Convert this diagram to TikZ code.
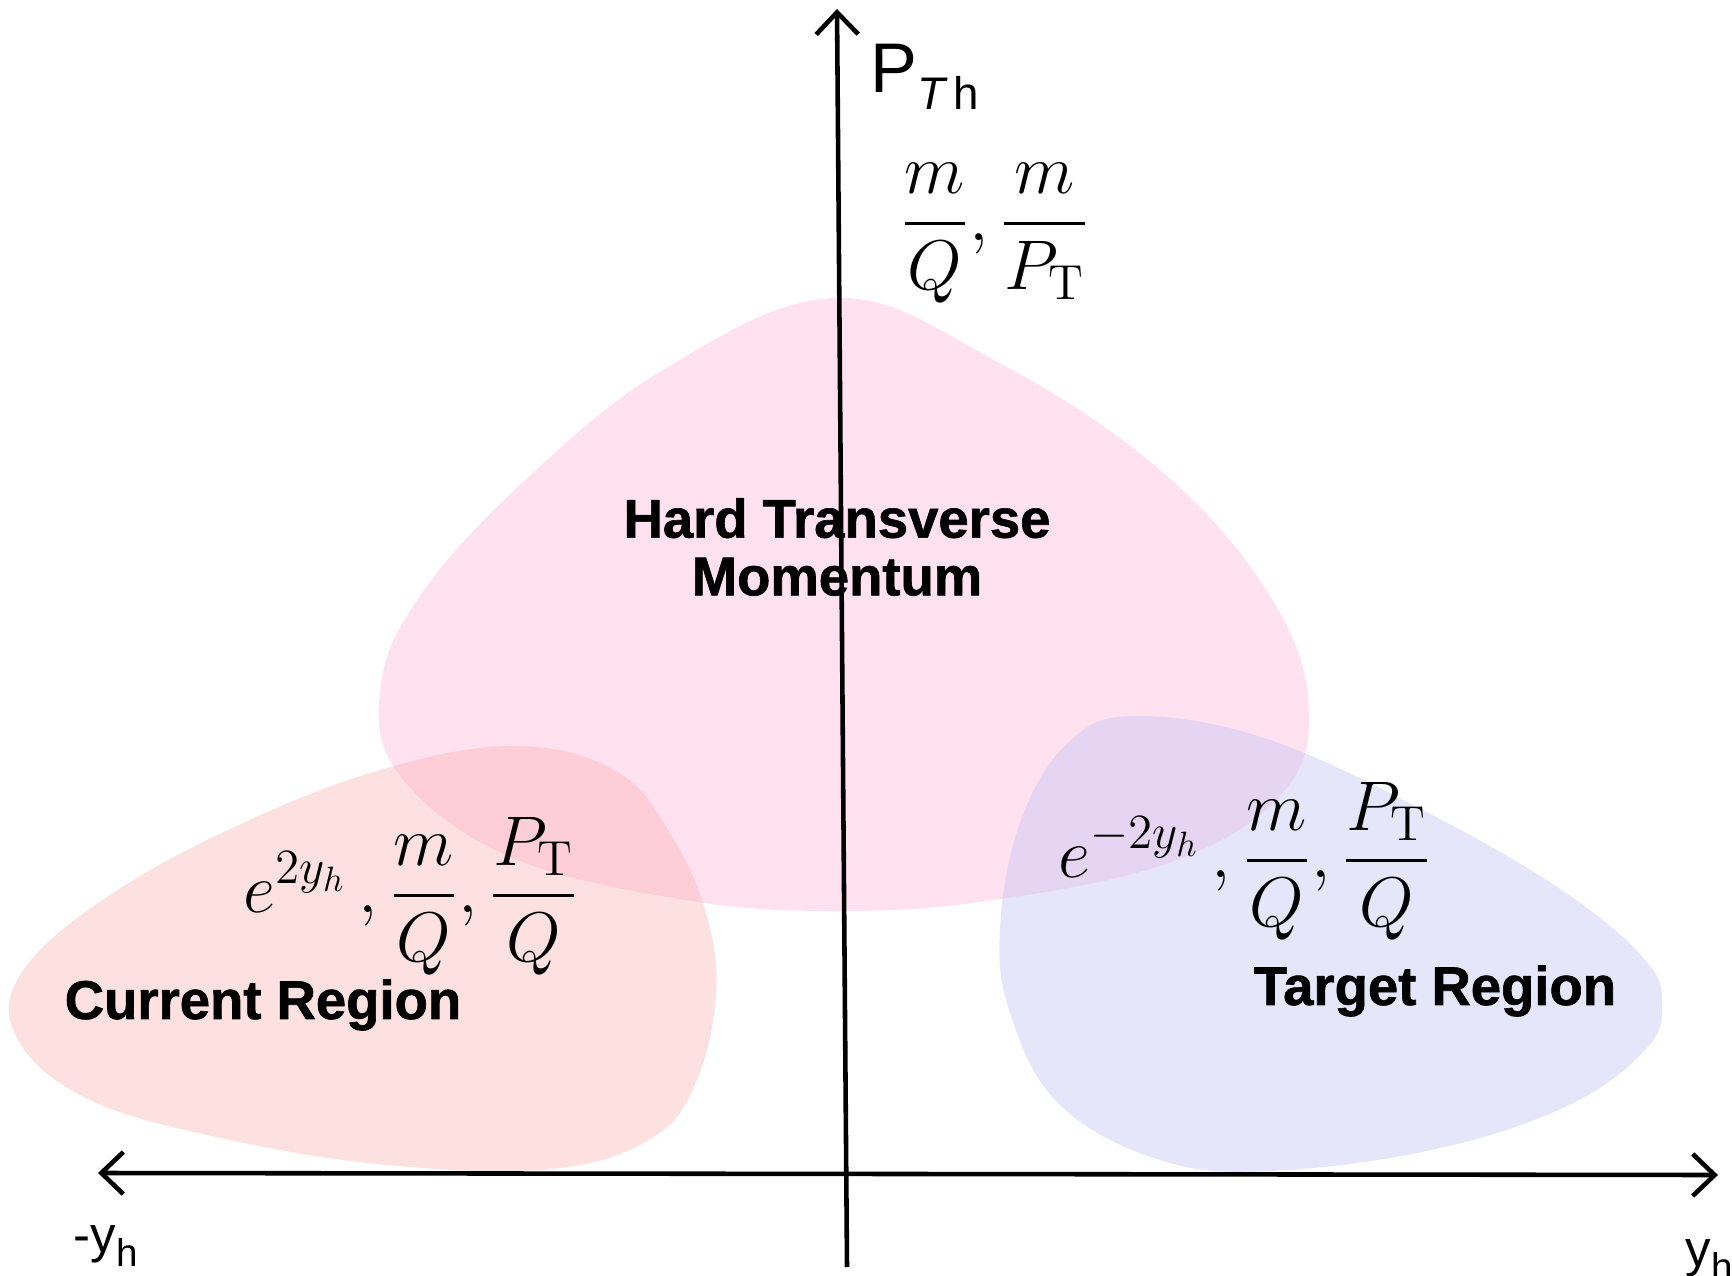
\documentclass[tikz,border=0pt]{standalone}
\usepackage{fix-cm}
\usepackage{amsmath}
\usepackage{fontspec}
\setsansfont{Liberation Sans}
\newfontfamily\regionfont[FakeBold=1.2]{Liberation Sans Bold}
\usetikzlibrary{arrows.meta}

\definecolor{hardpink}{RGB}{255,180,215}
\definecolor{currentred}{RGB}{250,170,170}
\definecolor{targetblue}{RGB}{200,200,245}

\begin{document}
\begin{tikzpicture}[
    >={Straight Barb[length=2.2mm,width=4.2mm]},
    axis/.style={line width=1.3pt, black},
    region/.style={draw=none, smooth cycle, tension=0.65},
    hard_reg/.style={region, fill=hardpink, fill opacity=0.40},
    cur_reg/.style={region, fill=currentred, fill opacity=0.35},
    tgt_reg/.style={region, fill=targetblue, fill opacity=0.45},
    reglabel/.style={font=\fontsize{15.5}{16.4}\selectfont\regionfont, align=center},
    scalelabel/.style={font=\fontsize{20}{24}\selectfont},
    axislabel/.style={font=\fontsize{20}{24}\selectfont\sffamily, inner sep=0pt, anchor=base west},
]
    \useasboundingbox (0,0) rectangle (17.32,12.75);
    \clip (0,0) rectangle (17.32,12.75);

    % --- Regions ---
    % Hard transverse momentum
    \path[hard_reg] plot coordinates {(8.35,9.77) (9.94,9.15) (11.60,8.05) (12.70,6.79) (13.09,5.68)
        (12.81,4.80) (11.71,4.13) (9.94,3.75) (8.40,3.64) (6.85,3.75) (5.08,4.19) (3.98,5.02)
        (3.81,5.90) (4.20,6.79) (5.19,7.89) (6.63,9.05)};
    % Current region
    \path[cur_reg] plot coordinates {(5.19,5.29) (6.19,5.02) (6.74,4.35) (7.07,3.58) (7.16,2.81)
        (6.96,1.93) (6.52,1.37) (5.52,1.06) (3.87,1.10) (2.21,1.37) (0.88,1.76) (0.17,2.37)
        (0.22,3.03) (1.10,3.80) (2.43,4.52) (3.87,5.07)};
    % Target region
    \path[tgt_reg] plot coordinates {(11.38,5.59) (12.70,5.35) (14.36,4.58) (15.69,3.80) (16.46,3.14)
        (16.62,2.70) (16.46,2.26) (15.69,1.70) (14.36,1.26) (12.70,1.04) (11.60,1.15) (10.60,1.70)
        (10.11,2.59) (10.00,3.47) (10.22,4.58) (10.71,5.35)};

    % --- Axes ---
    \coordinate (pth_base) at (8.47,0.08);
    \coordinate (pth_tip) at (8.37,12.66);
    \coordinate (yneg_tip) at (0.98,1.02);
    \coordinate (ypos_tip) at (17.18,1.00);
    \draw[axis, ->] (pth_base) -- (pth_tip);
    \draw[axis, <->] (yneg_tip) -- (ypos_tip);

    \node[axislabel] (pth_lbl) at (8.70,11.82) {P\raisebox{-4.8pt}{\fontsize{13}{13}\selectfont\itshape T\,\upshape h}};
    \node[axislabel, font=\fontsize{14.5}{17}\selectfont\sffamily] (yneg_lbl) at (0.73,0.23) {-y\raisebox{-4pt}{\fontsize{11}{11}\selectfont h}};
    \node[axislabel, font=\fontsize{14.5}{17}\selectfont\sffamily] (ypos_lbl) at (16.85,0.09) {y\raisebox{-4pt}{\fontsize{11}{11}\selectfont h}};

    % --- Scales ---
    \node[scalelabel] (hard_scale) at (9.95,10.42) {$\displaystyle \frac{m}{Q},\frac{m}{P_{\mathrm{T}}}$};
    \node[scalelabel] (cur_scale) at (4.11,3.79) {$\displaystyle e^{2y_h}\,,\frac{m}{Q},\frac{P_{\mathrm{T}}}{Q}$};
    \node[scalelabel] (tgt_scale) at (12.45,4.14) {$\displaystyle e^{-2y_h}\,,\frac{m}{Q},\frac{P_{\mathrm{T}}}{Q}$};

    % --- Region names ---
    \node[reglabel] (hard_lbl) at (8.37,7.28) {Hard Transverse\\Momentum};
    \node[reglabel] (cur_lbl) at (2.63,2.70) {Current Region};
    \node[reglabel] (tgt_lbl) at (14.35,2.84) {Target Region};

\end{tikzpicture}
\end{document}
